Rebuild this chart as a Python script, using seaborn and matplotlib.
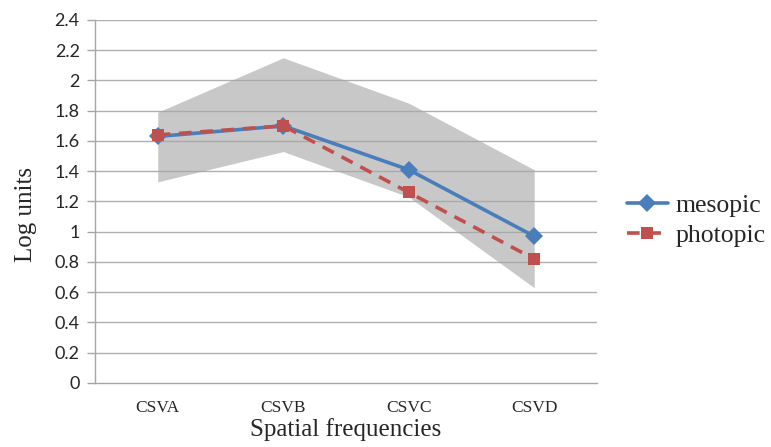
import matplotlib.pyplot as plt
import numpy as np
import pandas as pd
import seaborn as sns

# data
categories = ["CSVA", "CSVB", "CSVC", "CSVD"]
mesopic = [1.63, 1.70, 1.41, 0.97]
photopic = [1.64, 1.70, 1.26, 0.82]
band_upper = [1.79, 2.15, 1.85, 1.41]
band_lower = [1.33, 1.53, 1.23, 0.63]
y_ticks = [0, 0.2, 0.4, 0.6, 0.8, 1, 1.2, 1.4, 1.6, 1.8, 2, 2.2, 2.4]

BLUE = "#4A7EBB"
RED = "#C0504D"
GRID = "#A6A6A6"

sns.set_theme(style="white")

df = pd.DataFrame({
    "x": list(range(len(categories))) * 2,
    "value": mesopic + photopic,
    "series": ["mesopic"] * len(categories) + ["photopic"] * len(categories),
})

fig = plt.figure(figsize=(7.71, 4.47), dpi=100)
ax = fig.add_axes([0.1232, 0.1432, 0.6511, 0.8121])

xs = np.arange(len(categories))
ax.fill_between(xs, band_lower, band_upper, color="#C8C8C8", linewidth=0, zorder=1)
for t in y_ticks[1:]:
    ax.axhline(t, color=GRID, linewidth=1.0, zorder=1.5, alpha=0.9)

sns.lineplot(data=df, x="x", y="value", hue="series", style="series",
             palette={"mesopic": BLUE, "photopic": RED},
             dashes={"mesopic": "", "photopic": (3.5, 2.4)},
             markers={"mesopic": "D", "photopic": "s"},
             markersize=9, linewidth=2.6, markeredgewidth=0,
             ax=ax, zorder=3, legend=False)

ax.set_xlim(-0.5, 3.5)
ax.set_ylim(0, 2.4)
ax.set_yticks(y_ticks)
ax.set_yticklabels([f"{t:g}" for t in y_ticks], family="Lato", fontsize=13)
ax.set_xticks(xs)
ax.set_xticklabels(categories, family="Liberation Serif", fontsize=12.5)
ax.set_xticks(np.arange(-0.5, 4, 1), minor=True)
ax.tick_params(axis="x", which="major", length=0, pad=12)
ax.tick_params(axis="x", which="minor", length=6, color=GRID, width=1)
ax.tick_params(axis="y", length=6, color=GRID, width=1, left=True, pad=5)

for s in ["top", "right"]:
    ax.spines[s].set_visible(False)
for s in ["left", "bottom"]:
    ax.spines[s].set_color(GRID)
    ax.spines[s].set_linewidth(1)

ax.set_xlabel("Spatial frequencies", family="Liberation Serif", fontsize=18, labelpad=2)
ax.set_ylabel("Log units", family="Liberation Serif", fontsize=18)
ax.yaxis.set_label_coords(-0.115, 0.463)

handles = [
    plt.Line2D([], [], color=BLUE, marker="D", markersize=9, linewidth=2.6,
               markeredgewidth=0, label="mesopic"),
    plt.Line2D([], [], color=RED, marker="s", markersize=9, linewidth=2.6,
               markeredgewidth=0, linestyle=(0, (3.5, 2.4)), label="photopic"),
]
fig.legend(handles=handles, loc="center left", bbox_to_anchor=(0.813, 0.507),
           frameon=False, prop={"family": "Liberation Serif", "size": 18.5},
           handlelength=1.6, handletextpad=0.3, labelspacing=0.25, borderpad=0,
           borderaxespad=0)

fig.savefig("out.png", dpi=100)
